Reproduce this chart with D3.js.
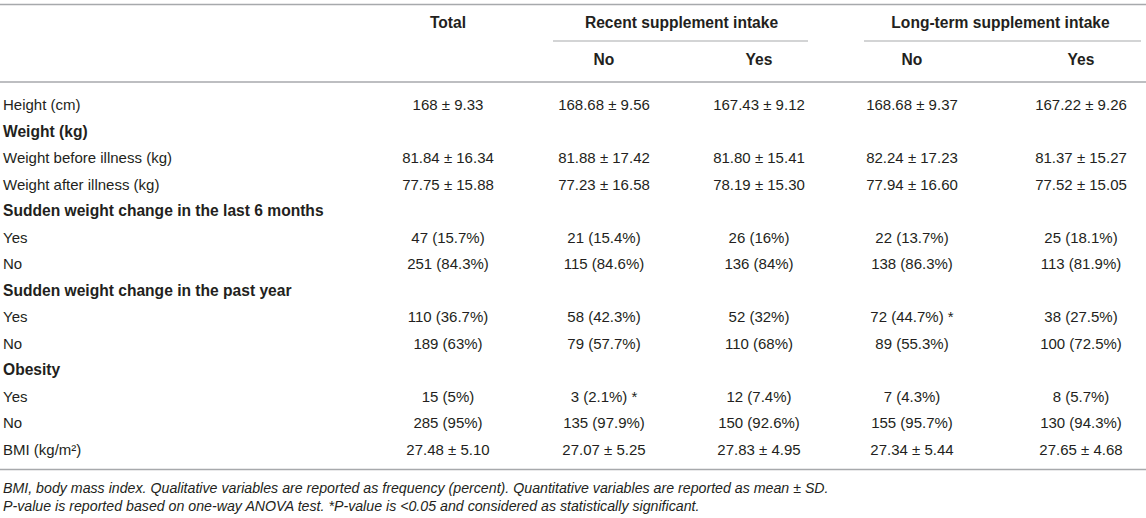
<!DOCTYPE html>
<html>
<head>
<meta charset="utf-8">
<script src="https://cdn.jsdelivr.net/npm/d3@7"></script>
<style>
  html, body { margin: 0; padding: 0; background: #fff; }
  svg { display: block; }
  text { font-family: "Liberation Sans", Arial, Helvetica, sans-serif; fill: #231f20; }
</style>
</head>
<body>
<svg id="chart" width="1146" height="518"></svg>
<script>
// ---- data ----
const columns = ["Total", "RecentNo", "RecentYes", "LongNo", "LongYes"];
const groupHeaders = ["Recent supplement intake", "Long-term supplement intake"];
const subHeaders = ["No", "Yes", "No", "Yes"];
const rowLabels = [
  "Height (cm)",
  "Weight (kg)",
  "Weight before illness (kg)",
  "Weight after illness (kg)",
  "Sudden weight change in the last 6 months",
  "Yes",
  "No",
  "Sudden weight change in the past year",
  "Yes",
  "No",
  "Obesity",
  "Yes",
  "No",
  "BMI (kg/m\u00b2)"
];
const sectionRows = [1, 4, 7, 10];
const totalValues = ["168 \u00b1 9.33", "", "81.84 \u00b1 16.34", "77.75 \u00b1 15.88", "", "47 (15.7%)", "251 (84.3%)", "", "110 (36.7%)", "189 (63%)", "", "15 (5%)", "285 (95%)", "27.48 \u00b1 5.10"];
const recentNoValues = ["168.68 \u00b1 9.56", "", "81.88 \u00b1 17.42", "77.23 \u00b1 16.58", "", "21 (15.4%)", "115 (84.6%)", "", "58 (42.3%)", "79 (57.7%)", "", "3 (2.1%) *", "135 (97.9%)", "27.07 \u00b1 5.25"];
const recentYesValues = ["167.43 \u00b1 9.12", "", "81.80 \u00b1 15.41", "78.19 \u00b1 15.30", "", "26 (16%)", "136 (84%)", "", "52 (32%)", "110 (68%)", "", "12 (7.4%)", "150 (92.6%)", "27.83 \u00b1 4.95"];
const longNoValues = ["168.68 \u00b1 9.37", "", "82.24 \u00b1 17.23", "77.94 \u00b1 16.60", "", "22 (13.7%)", "138 (86.3%)", "", "72 (44.7%) *", "89 (55.3%)", "", "7 (4.3%)", "155 (95.7%)", "27.34 \u00b1 5.44"];
const longYesValues = ["167.22 \u00b1 9.26", "", "81.37 \u00b1 15.27", "77.52 \u00b1 15.05", "", "25 (18.1%)", "113 (81.9%)", "", "38 (27.5%)", "100 (72.5%)", "", "8 (5.7%)", "130 (94.3%)", "27.65 \u00b1 4.68"];
const footnotes = [
  "BMI, body mass index. Qualitative variables are reported as frequency (percent). Quantitative variables are reported as mean \u00b1 SD.",
  "P-value is reported based on one-way ANOVA test. *P-value is <0.05 and considered as statistically significant."
];

// ---- layout ----
const svg = d3.select("#chart");
const W = 1146;
const bodyFont = 15;
const boldFont = 15.6;
const ruleColor = "#a7a9ac";

const x = d3.scaleOrdinal().domain(columns).range([448, 604, 759, 912, 1081]);
const y = d3.scaleBand().domain(d3.range(rowLabels.length)).range([91.75, 91.75 + 26.5 * rowLabels.length]);
const yc = i => y(i) + y.bandwidth() / 2;

const valueSeries = [totalValues, recentNoValues, recentYesValues, longNoValues, longYesValues];

// rules
const rule = (x1, x2, yy, w, c) => svg.append("line")
  .attr("x1", x1).attr("x2", x2).attr("y1", yy).attr("y2", yy)
  .attr("stroke", c || ruleColor).attr("stroke-width", w);

rule(0, W, 4.5, 1.6);
rule(0, W, 82, 1.6);
rule(0, W, 469.5, 1.6);
rule(553, 808, 41, 1.1);
rule(864, 1141, 41, 1.1);

// header texts
svg.append("text").attr("x", x("Total")).attr("y", 23).attr("dy", "0.35em")
  .attr("text-anchor", "middle").attr("font-weight", "bold").attr("font-size", boldFont).text("Total");

const groupCenters = [(x("RecentNo") + x("RecentYes")) / 2, (x("LongNo") + x("LongYes")) / 2 + 4];
svg.selectAll("text.grp").data(groupHeaders).join("text").attr("class", "grp")
  .attr("x", (d, i) => groupCenters[i]).attr("y", 23).attr("dy", "0.35em")
  .attr("text-anchor", "middle").attr("font-weight", "bold").attr("font-size", boldFont).text(d => d);

svg.selectAll("text.sub").data(subHeaders).join("text").attr("class", "sub")
  .attr("x", (d, i) => x(columns[i + 1])).attr("y", 60).attr("dy", "0.35em")
  .attr("text-anchor", "middle").attr("font-weight", "bold").attr("font-size", boldFont).text(d => d);

// row labels
svg.selectAll("text.lab").data(rowLabels).join("text").attr("class", "lab")
  .attr("x", 3).attr("y", (d, i) => yc(i)).attr("dy", "0.35em")
  .attr("font-size", (d, i) => sectionRows.includes(i) ? boldFont : bodyFont)
  .attr("font-weight", (d, i) => sectionRows.includes(i) ? "bold" : "normal")
  .text(d => d);

// values
valueSeries.forEach((series, ci) => {
  svg.append("g").selectAll("text").data(series).join("text")
    .attr("x", x(columns[ci])).attr("y", (d, i) => yc(i)).attr("dy", "0.35em")
    .attr("text-anchor", "middle").attr("font-size", bodyFont).text(d => d);
});

// footnotes
svg.selectAll("text.fn").data(footnotes).join("text").attr("class", "fn")
  .attr("x", 3).attr("y", (d, i) => 488 + i * 18.5).attr("dy", "0.35em")
  .attr("font-size", 14.2).attr("font-style", "italic").attr("fill", "#333").text(d => d);
</script>
</body>
</html>
